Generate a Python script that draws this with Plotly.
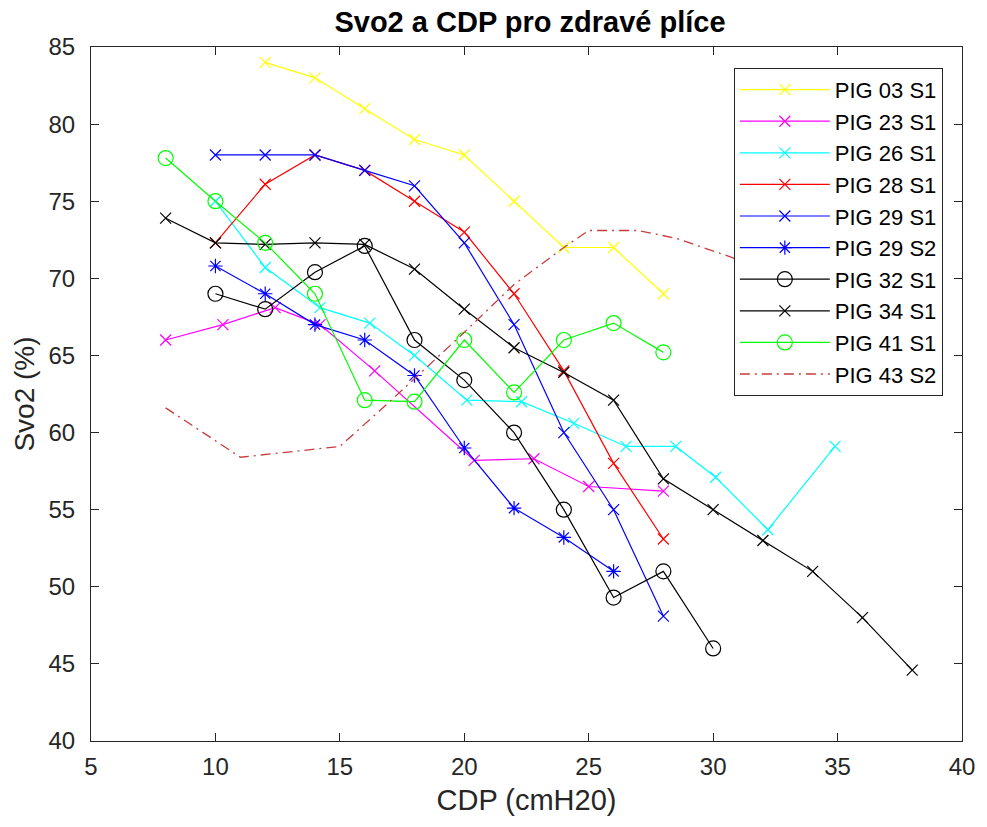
import plotly.graph_objects as go

# ---- data ----
x03 = [12, 14, 16, 18, 20, 22, 24, 26, 28]
y03 = [84, 83, 81, 79, 78, 75, 72, 72, 69]

x23 = [8, 10.3, 12.4, 14.2, 16.4, 20.4, 22.8, 25, 28]
y23 = [66, 67, 68.1, 67, 64, 58.2, 58.3, 56.5, 56.2]

x26 = [10, 12, 14.2, 16.2, 18, 20.1, 22.3, 24.4, 26.5, 28.5, 30.1, 32.2, 34.9]
y26 = [75, 70.7, 68.1, 67.1, 65, 62.1, 62, 60.6, 59.1, 59.1, 57.1, 53.7, 59.1]

x28 = [10, 12, 14, 16, 18, 20, 22, 24, 26, 28]
y28 = [72.3, 76.1, 78, 77, 75, 73, 69, 64, 58, 53.1]

x29a = [10, 12, 14, 16, 18, 20, 22, 24, 26, 28]
y29a = [78, 78, 78, 77, 76, 72.3, 67, 60, 55, 48.1]

x29b = [10, 12, 14, 16, 18, 20, 22, 24, 26]
y29b = [70.8, 69, 67, 66, 63.7, 59, 55.1, 53.2, 51]

x32 = [10, 12, 14, 16, 18, 20, 22, 24, 26, 28, 30]
y32 = [69, 68, 70.4, 72.1, 66, 63.4, 60, 55, 49.3, 51, 46]

x34 = [8, 10, 12, 14, 16, 18, 20, 22, 24, 26, 28, 30, 32, 34, 36, 38]
y34 = [73.9, 72.3, 72.2, 72.3, 72.2, 70.6, 68, 65.5, 63.9, 62.1, 57, 55, 53, 51, 48, 44.6]

x41 = [8, 10, 12, 14, 16, 18, 20, 22, 24, 26, 28]
y41 = [77.8, 75, 72.3, 69, 62.1, 62, 66, 62.6, 66, 67.1, 65.2]

x43 = [8, 11, 15, 17, 20, 22, 24, 25, 27, 28.5, 30.5, 32]
y43 = [61.6, 58.4, 59.1, 62, 66.5, 69.6, 72, 73.1, 73.1, 72.6, 71.5, 70.6]

names = ["PIG 03 S1", "PIG 23 S1", "PIG 26 S1", "PIG 28 S1", "PIG 29 S1",
         "PIG 29 S2", "PIG 32 S1", "PIG 34 S1", "PIG 41 S1", "PIG 43 S2"]

xticks = [5, 10, 15, 20, 25, 30, 35, 40]
yticks = [40, 45, 50, 55, 60, 65, 70, 75, 80, 85]

# ---- styles ----
series = [
    (x03, y03, "#FFFF00", "x-thin-open", 11, "solid"),
    (x23, y23, "#FF00FF", "x-thin-open", 11, "solid"),
    (x26, y26, "#00FFFF", "x-thin-open", 11, "solid"),
    (x28, y28, "#FF0000", "x-thin-open", 11, "solid"),
    (x29a, y29a, "#0000FF", "x-thin-open", 11, "solid"),
    (x29b, y29b, "#0000FF", "asterisk-open", 12, "solid"),
    (x32, y32, "#000000", "circle-open", 15, "solid"),
    (x34, y34, "#000000", "x-thin-open", 11, "solid"),
    (x41, y41, "#00FF00", "circle-open", 15, "solid"),
    (x43, y43, "#C83C3C", None, 0, "10px,5px,2px,5px"),
]

fig = go.Figure()
for (xs, ys, col, sym, sz, dash), nm in zip(series, names):
    if sym is None:
        fig.add_trace(go.Scatter(x=xs, y=ys, name=nm, mode="lines",
                                 line=dict(color=col, width=1.3, dash=dash)))
    else:
        fig.add_trace(go.Scatter(x=xs, y=ys, name=nm, mode="lines+markers",
                                 line=dict(color=col, width=1.2),
                                 marker=dict(symbol=sym, size=sz, color=col,
                                             line=dict(color=col, width=1.2))))

FONT = "Liberation Sans, Arial"
axis_common = dict(showgrid=False, zeroline=False, showline=True,
                   linecolor="#262626", linewidth=1, mirror="ticks",
                   ticks="inside", ticklen=8, tickcolor="#262626",
                   tickfont=dict(family=FONT, size=24, color="#262626"))

fig.update_layout(
    width=987, height=827,
    paper_bgcolor="white", plot_bgcolor="white",
    margin=dict(l=91, r=18, t=47, b=86),
    title=dict(text="<b>Svo2 a CDP pro zdravé plíce</b>",
               font=dict(family=FONT, size=29, color="#000000"),
               x=(91 + 878 / 2) / 987, xanchor="center", y=1 - 22 / 827, yanchor="middle"),
    xaxis=dict(range=[5, 40], tickvals=xticks, ticklabelstandoff=4,
               title=dict(text="CDP (cmH20)", standoff=10,
                          font=dict(family=FONT, size=29, color="#262626")),
               **axis_common),
    yaxis=dict(range=[40, 85], tickvals=yticks, ticklabelstandoff=10,
               title=dict(text="Svo2 (%)", standoff=5,
                          font=dict(family=FONT, size=28, color="#262626")),
               **axis_common),
    legend=dict(x=0.978, y=0.970, xanchor="right", yanchor="top",
                bgcolor="white", bordercolor="#262626", borderwidth=1,
                font=dict(family=FONT, size=22, color="#000000"),
                itemwidth=90, tracegroupgap=0),
    showlegend=True,
)

fig.write_html("out.html")
